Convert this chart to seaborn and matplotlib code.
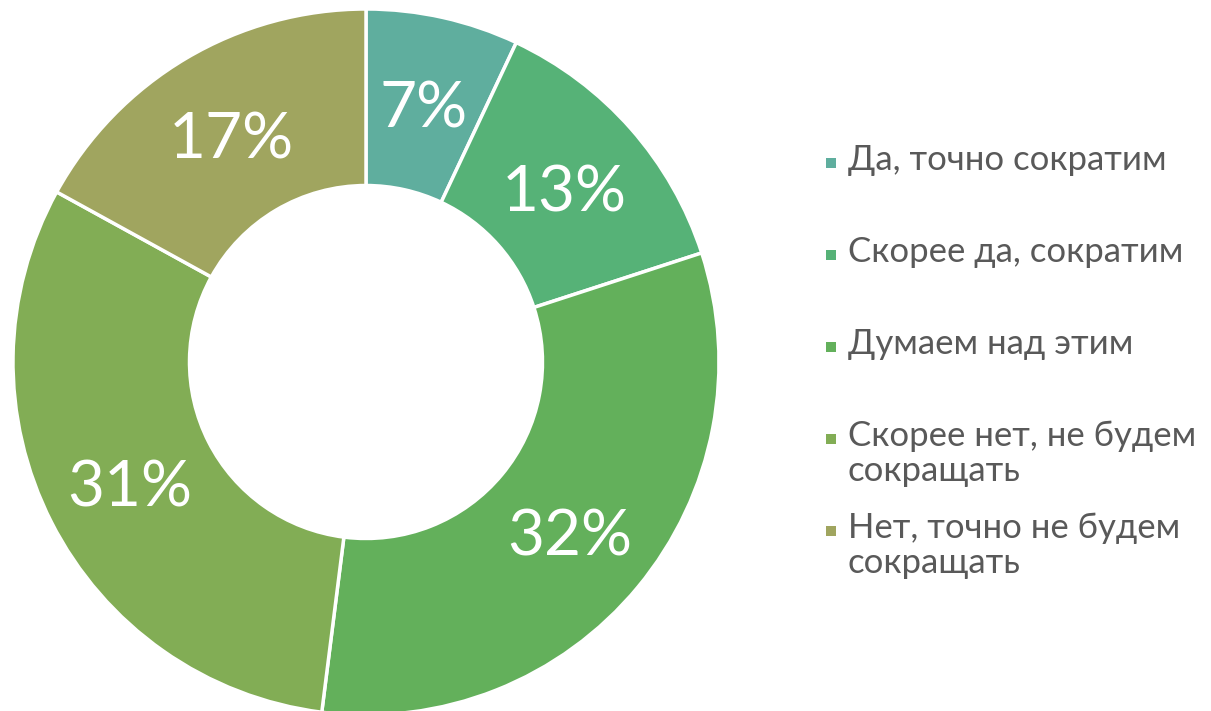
import matplotlib
matplotlib.use("Agg")
import matplotlib.pyplot as plt
import matplotlib.patches as mpatches
import seaborn as sns

# data
categories = [
    "Да, точно сократим",
    "Скорее да, сократим",
    "Думаем над этим",
    "Скорее нет, не будем\nсокращать",
    "Нет, точно не будем\nсокращать",
]
shares = [7, 13, 32, 31, 17]
colors = ["#5FAE9E", "#56B277", "#63B05B", "#82AD55", "#A0A55F"]

sns.set_theme(style="white")
plt.rcParams['font.family'] = ['Lato', 'DejaVu Sans']

fig = plt.figure(figsize=(12.11, 7.11), dpi=100)
# square axes holding the donut (center ~ (366, 362) px, radius ~353 px)
ax = fig.add_axes([13 / 1211, -4 / 711, 706 / 1211, 706 / 711])

wedges, texts, autotexts = ax.pie(
    shares,
    colors=colors,
    startangle=90,
    counterclock=False,
    autopct=lambda p: f"{p:.0f}%",
    pctdistance=0.75,
    wedgeprops=dict(width=0.5, edgecolor="white", linewidth=2.5),
    textprops=dict(color="white", fontsize=46, fontweight="normal"),
)
# nudge labels a bit lower, like the original
for t in autotexts:
    t.set_y(t.get_position()[1] - 0.018)
ax.set_xlim(-1, 1)
ax.set_ylim(-1, 1)
ax.set_aspect("equal")
ax.axis("off")

# legend, one entry per 92 px, long labels wrap downwards
x_box, x_txt = 826 / 1211, 848 / 1211
for i, (lab, col) in enumerate(zip(categories, colors)):
    y = 1 - (163 + 92 * i) / 711
    fig.add_artist(mpatches.Rectangle((x_box, y - 5 / 711), 10 / 1211, 10 / 711,
                                      transform=fig.transFigure, color=col, lw=0))
    fig.text(x_txt, y + 19 / 711, lab, ha="left", va="top", fontsize=25,
             color="#595959", linespacing=1.1)

fig.savefig("out.png", dpi=100)
